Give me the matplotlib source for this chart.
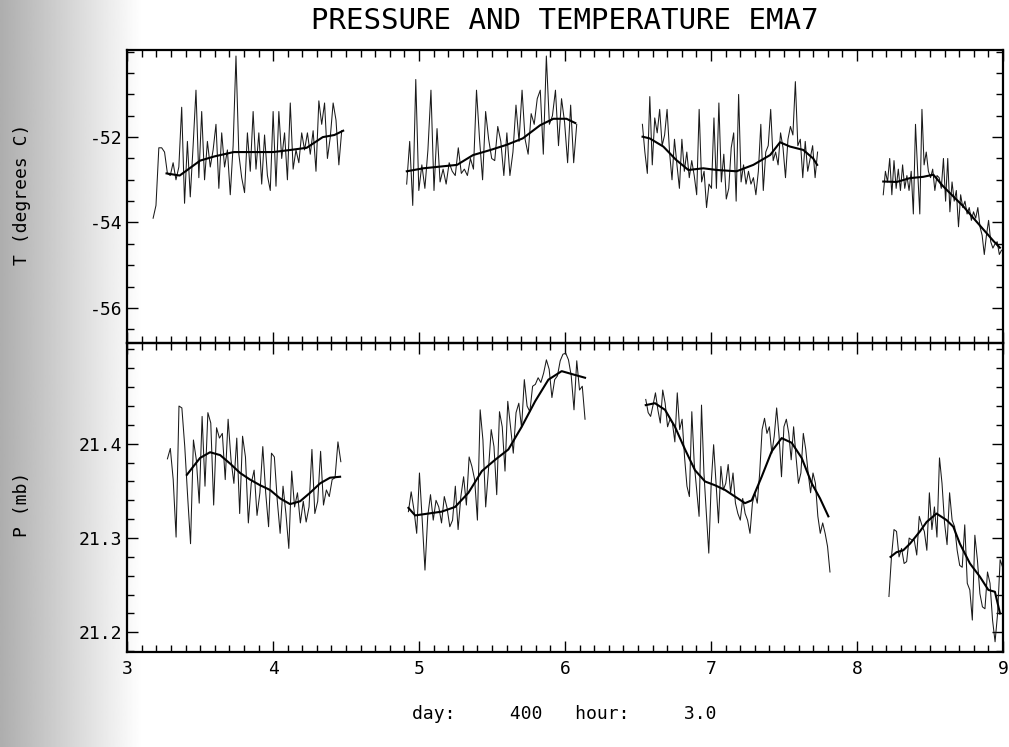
import matplotlib.pyplot as plt
import numpy as np
from matplotlib.ticker import MultipleLocator, FormatStrFormatter

plt.rcParams['font.family'] = ['DejaVu Sans Mono']
plt.rcParams['axes.unicode_minus'] = False

# ---------------- data ----------------
# temperature, raw samples: (start day, end day) and values
t_spans = [(3.178, 4.47), (4.915, 6.08), (6.53, 7.73), (8.18, 8.99)]
t_raw1 = [-53.9, -53.6, -52.25, -52.25, -52.35, -52.85, -52.9, -52.6, -53.0, -52.7,
          -51.3, -53.55, -52.1, -53.4, -52.2, -50.9, -52.95, -51.4, -53.0, -52.1,
          -52.7, -52.3, -51.7, -53.2, -51.9, -52.7, -52.3, -53.35, -52.2, -50.1,
          -52.4, -52.95, -53.3, -51.9, -52.8, -51.4, -52.75, -51.9, -53.1, -51.95,
          -52.9, -53.25, -51.4, -53.15, -51.4, -52.5, -51.9, -53.0, -51.2, -52.75,
          -52.3, -52.6, -51.9, -52.3, -51.9, -52.4, -51.85, -52.8, -51.15, -51.7,
          -51.2, -52.5, -52.0, -51.2, -51.6, -52.65, -51.85]
t_raw2 = [-53.1, -52.1, -53.6, -50.65, -53.25, -52.65, -53.2, -52.3, -50.9, -53.25,
          -51.8, -53.05, -52.75, -53.1, -52.6, -52.8, -52.9, -52.25, -52.85, -52.75,
          -52.9, -52.5, -52.75, -50.9, -52.05, -53.0, -51.4, -52.05, -52.5, -52.55,
          -51.75, -52.1, -52.9, -51.9, -52.9, -52.35, -51.25, -52.1, -50.9, -52.05,
          -52.4, -51.45, -51.7, -51.1, -50.9, -52.4, -50.1, -51.7, -51.5, -50.9,
          -52.2, -51.1, -51.65, -52.6, -51.25, -52.6, -51.7]
t_raw3 = [-51.7, -52.35, -52.85, -51.05, -52.65, -51.55, -51.9, -51.35, -52.2, -51.95,
          -51.35, -52.35, -53.0, -52.05, -52.65, -53.2, -52.05, -52.8, -52.35, -52.95,
          -52.55, -52.9, -53.35, -51.35, -53.05, -52.8, -53.65, -53.1, -53.2, -51.55,
          -53.2, -51.2, -53.05, -52.4, -53.45, -53.2, -52.25, -51.9, -53.5, -51.0,
          -53.05, -52.65, -53.1, -52.8, -53.1, -52.95, -53.35, -52.8, -51.7, -53.25,
          -52.35, -52.2, -51.35, -52.55, -52.35, -52.65, -51.9, -52.25, -52.95, -52.05,
          -51.75, -51.95, -50.7, -52.2, -52.05, -52.95, -52.1, -52.8, -52.5, -52.2,
          -52.95, -52.35]
t_raw4 = [-53.35, -52.8, -53.05, -52.5, -53.35, -52.55, -53.2, -52.75, -53.25, -52.65,
          -53.2, -52.9, -53.25, -52.8, -53.8, -51.7, -52.8, -53.8, -51.35, -52.65,
          -52.35, -52.8, -52.95, -52.75, -53.25, -52.9, -52.95, -53.2, -52.5, -53.5,
          -52.5, -53.75, -53.05, -53.5, -53.25, -54.1, -53.35, -53.65, -53.5, -53.8,
          -53.65, -53.95, -53.75, -53.9, -53.65, -54.1, -54.3, -54.75, -54.3, -53.95,
          -54.45, -54.6, -54.5, -54.45, -54.75, -54.65]

# temperature, smoothed curve
t_sm_day1 = [3.27, 3.36, 3.50, 3.60, 3.73, 3.87, 4.00, 4.12, 4.23, 4.34, 4.42, 4.48]
t_sm_val1 = [-52.85, -52.9, -52.55, -52.45, -52.35, -52.35, -52.35, -52.3, -52.25, -52.0, -51.95, -51.85]
t_sm_day2 = [4.916, 5.03, 5.26, 5.37, 5.49, 5.60, 5.71, 5.83, 5.92, 6.01, 6.07]
t_sm_val2 = [-52.8, -52.73, -52.65, -52.42, -52.3, -52.18, -52.03, -51.72, -51.57, -51.57, -51.67]
t_sm_day3 = [6.531, 6.58, 6.673, 6.76, 6.845, 6.947, 7.04, 7.175, 7.29, 7.405, 7.473, 7.54, 7.632, 7.70, 7.727]
t_sm_val3 = [-51.99, -52.03, -52.22, -52.53, -52.77, -52.73, -52.77, -52.8, -52.65, -52.42, -52.12, -52.22, -52.3, -52.5, -52.65]
t_sm_day4 = [8.18, 8.272, 8.363, 8.454, 8.523, 8.59, 8.66, 8.728, 8.796, 8.865, 8.934, 8.979]
t_sm_val4 = [-53.04, -53.05, -52.96, -52.93, -52.88, -53.15, -53.39, -53.62, -53.89, -54.16, -54.43, -54.59]

# pressure, raw samples
p_spans = [(3.276, 4.464), (4.927, 6.137), (6.553, 7.815), (8.219, 8.998)]
p_raw1 = [21.384, 21.395, 21.362, 21.301, 21.440, 21.438, 21.397, 21.344, 21.294, 21.404,
          21.383, 21.337, 21.429, 21.355, 21.433, 21.422, 21.335, 21.417, 21.406, 21.411,
          21.362, 21.426, 21.383, 21.358, 21.406, 21.326, 21.408, 21.386, 21.316, 21.358,
          21.372, 21.324, 21.348, 21.397, 21.348, 21.312, 21.390, 21.386, 21.340, 21.305,
          21.355, 21.326, 21.289, 21.371, 21.333, 21.348, 21.316, 21.339, 21.317, 21.333,
          21.394, 21.326, 21.339, 21.392, 21.335, 21.351, 21.344, 21.362, 21.364, 21.402,
          21.381]
p_raw2 = [21.328, 21.349, 21.330, 21.305, 21.369, 21.319, 21.266, 21.323, 21.346, 21.319,
          21.340, 21.333, 21.316, 21.344, 21.332, 21.312, 21.319, 21.355, 21.309, 21.344,
          21.365, 21.335, 21.386, 21.376, 21.362, 21.319, 21.436, 21.404, 21.333, 21.372,
          21.415, 21.397, 21.346, 21.434, 21.418, 21.371, 21.445, 21.418, 21.390, 21.433,
          21.443, 21.417, 21.468, 21.440, 21.434, 21.461, 21.463, 21.470, 21.465, 21.475,
          21.489, 21.479, 21.449, 21.468, 21.472, 21.488, 21.495, 21.496, 21.489, 21.472,
          21.436, 21.488, 21.457, 21.461, 21.426]
p_raw3 = [21.447, 21.433, 21.429, 21.441, 21.454, 21.436, 21.422, 21.457, 21.443, 21.418,
          21.426, 21.422, 21.402, 21.454, 21.415, 21.426, 21.386, 21.355, 21.344, 21.434,
          21.379, 21.351, 21.323, 21.441, 21.369, 21.326, 21.284, 21.358, 21.399, 21.358,
          21.316, 21.376, 21.351, 21.358, 21.378, 21.348, 21.369, 21.337, 21.326, 21.319,
          21.342, 21.326, 21.319, 21.305, 21.337, 21.348, 21.337, 21.369, 21.415, 21.427,
          21.411, 21.418, 21.390, 21.408, 21.438, 21.408, 21.365, 21.418, 21.426, 21.411,
          21.383, 21.418, 21.386, 21.358, 21.369, 21.411, 21.394, 21.369, 21.348, 21.369,
          21.358, 21.323, 21.305, 21.316, 21.305, 21.291, 21.264]
p_raw4 = [21.238, 21.280, 21.309, 21.307, 21.280, 21.289, 21.273, 21.275, 21.300, 21.298,
          21.298, 21.282, 21.323, 21.314, 21.307, 21.287, 21.348, 21.309, 21.333, 21.301,
          21.385, 21.358, 21.316, 21.293, 21.348, 21.319, 21.312, 21.287, 21.271, 21.269,
          21.314, 21.252, 21.245, 21.213, 21.303, 21.277, 21.241, 21.227, 21.225, 21.264,
          21.252, 21.213, 21.190, 21.220, 21.277, 21.269]

# pressure, smoothed curve
p_sm_day1 = [3.409, 3.454, 3.5, 3.568, 3.637, 3.705, 3.774, 3.842, 3.911, 3.979, 4.048,
             4.116, 4.185, 4.253, 4.322, 4.39, 4.459]
p_sm_val1 = [21.367, 21.376, 21.385, 21.391, 21.388, 21.379, 21.369, 21.362, 21.356, 21.351,
             21.342, 21.336, 21.339, 21.348, 21.358, 21.364, 21.365]
p_sm_day2 = [4.927, 4.973, 5.064, 5.155, 5.247, 5.338, 5.43, 5.521, 5.612, 5.703, 5.795,
             5.886, 5.977, 6.068, 6.137]
p_sm_val2 = [21.332, 21.324, 21.326, 21.328, 21.333, 21.348, 21.371, 21.383, 21.394, 21.418,
             21.445, 21.468, 21.477, 21.473, 21.470]
p_sm_day3 = [6.553, 6.616, 6.685, 6.753, 6.822, 6.89, 6.959, 7.027, 7.096, 7.164, 7.233,
             7.279, 7.347, 7.416, 7.484, 7.553, 7.621, 7.69, 7.747, 7.804]
p_sm_val3 = [21.441, 21.443, 21.436, 21.418, 21.394, 21.372, 21.360, 21.356, 21.351, 21.344,
             21.337, 21.340, 21.365, 21.392, 21.406, 21.401, 21.385, 21.358, 21.342, 21.323]
p_sm_day4 = [8.23, 8.271, 8.317, 8.363, 8.431, 8.477, 8.545, 8.614, 8.66, 8.705, 8.774,
             8.842, 8.9, 8.945, 8.98]
p_sm_val4 = [21.280, 21.285, 21.287, 21.294, 21.307, 21.317, 21.326, 21.319, 21.312, 21.294,
             21.273, 21.259, 21.245, 21.243, 21.220]

x_ticks = [3, 4, 5, 6, 7, 8, 9]
t_ticks = [-56, -54, -52]
p_ticks = [21.2, 21.3, 21.4]

# ---------------- figure ----------------
fig = plt.figure(figsize=(10.09, 7.47), dpi=100)

# grey scanner shading on the left edge
bg = fig.add_axes([0, 0, 0.14, 1], zorder=-5)
bg.imshow(np.linspace(0.68, 1.0, 200)[None, :], cmap='gray', vmin=0, vmax=1,
          aspect='auto', extent=[0, 1, 0, 1])
bg.axis('off')

ax_t = fig.add_axes([0.126, 0.541, 0.868, 0.392])
ax_p = fig.add_axes([0.126, 0.127, 0.868, 0.414], sharex=ax_t)

raw_kw = dict(color='#1a1a1a', lw=0.75)
sm_kw = dict(color='black', lw=1.5)

for (a, b), vals in zip(t_spans, [t_raw1, t_raw2, t_raw3, t_raw4]):
    ax_t.plot(np.linspace(a, b, len(vals)), vals, **raw_kw)
for d, v in [(t_sm_day1, t_sm_val1), (t_sm_day2, t_sm_val2),
             (t_sm_day3, t_sm_val3), (t_sm_day4, t_sm_val4)]:
    ax_t.plot(d, v, **sm_kw)

for (a, b), vals in zip(p_spans, [p_raw1, p_raw2, p_raw3, p_raw4]):
    ax_p.plot(np.linspace(a, b, len(vals)), vals, **raw_kw)
for d, v in [(p_sm_day1, p_sm_val1), (p_sm_day2, p_sm_val2),
             (p_sm_day3, p_sm_val3), (p_sm_day4, p_sm_val4)]:
    ax_p.plot(d, v, **sm_kw)

ax_t.set_xlim(3, 9)
ax_t.set_ylim(-56.82, -49.96)
ax_p.set_ylim(21.179, 21.507)

for ax in (ax_t, ax_p):
    ax.set_facecolor('none')
    for s in ax.spines.values():
        s.set_linewidth(1.6)
    ax.xaxis.set_major_locator(plt.FixedLocator(x_ticks))
    ax.xaxis.set_minor_locator(MultipleLocator(0.1))
    ax.tick_params(axis='both', which='major', direction='in', length=8, width=1,
                   labelsize=13, right=True, top=True)
    ax.tick_params(axis='both', which='minor', direction='in', length=5, width=1,
                   right=True, top=True)

ax_t.set_yticks(t_ticks)
ax_t.yaxis.set_minor_locator(MultipleLocator(0.5))
ax_t.tick_params(axis='x', which='both', labelbottom=False)

ax_p.set_yticks(p_ticks)
ax_p.yaxis.set_major_formatter(FormatStrFormatter('%.1f'))
ax_p.yaxis.set_minor_locator(MultipleLocator(0.02))
ax_p.tick_params(axis='x', which='both', pad=6)

fig.text(0.56, 0.972, 'PRESSURE AND TEMPERATURE EMA7', ha='center', va='center',
         fontsize=21)
fig.text(0.022, 0.74, 'T (degrees C)', rotation=90, ha='center', va='center', fontsize=13)
fig.text(0.022, 0.325, 'P (mb)', rotation=90, ha='center', va='center', fontsize=13)
fig.text(0.408, 0.044, 'day:     400   hour:     3.0', ha='left', va='center', fontsize=13)

fig.savefig('out.png', dpi=100)
